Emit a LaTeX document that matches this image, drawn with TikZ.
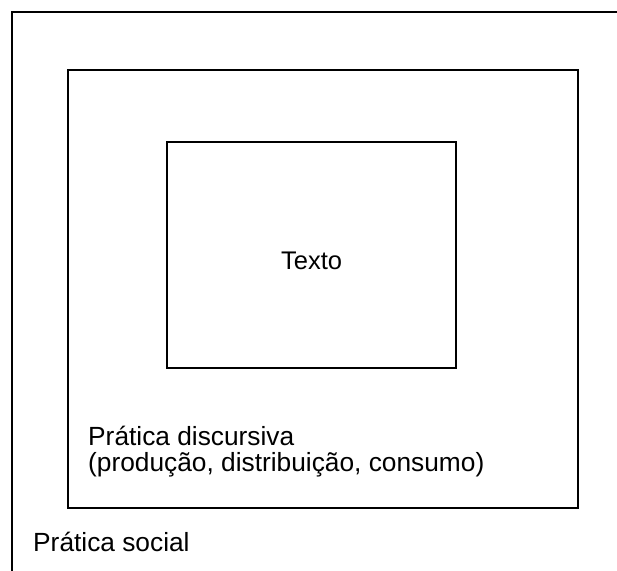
\documentclass[tikz,border=0pt]{standalone}
\usepackage{fontspec}
\setmainfont{Liberation Sans}
\begin{document}
\begin{tikzpicture}[x=1pt,y=-1pt,
  boxline/.style={draw, line width=2.2pt},
  lbl/.style={inner sep=0pt, font=\fontsize{26.3}{26}\selectfont},
  lblsmall/.style={inner sep=0pt, font=\fontsize{25.5}{25}\selectfont}]
\useasboundingbox (0,0) rectangle (617,570);
\clip (0,0) rectangle (617,570);
% Prática social (outer frame, extends beyond the picture)
\draw[boxline] (12,12) rectangle (650,610);
% Prática discursiva
\draw[boxline] (68,70) rectangle (578,508);
% Texto
\draw[boxline] (167.3,141.7) rectangle (456,368);
\node[lblsmall, anchor=base] (texto) at (311.6,269) {Texto};
\node[lbl, anchor=base west, align=left] (discursiva) at (88,471)
  {Prática discursiva\\(produção, distribuição, consumo)};
\node[lbl, anchor=base west] (social) at (33,551) {Prática social};
\end{tikzpicture}
\end{document}
